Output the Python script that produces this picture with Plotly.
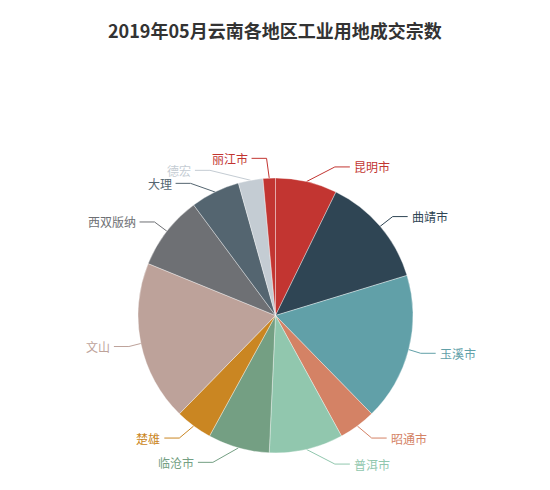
import math
import plotly.graph_objects as go

title = "2019年05月云南各地区工业用地成交宗数"
regions = ["昆明市", "曲靖市", "玉溪市", "昭通市", "普洱市", "临沧市",
           "楚雄", "文山", "西双版纳", "大理", "德宏", "丽江市"]
counts = [5, 9, 12, 3, 6, 5, 3, 13, 6, 4, 2, 1]
palette = ["#c23531", "#2f4554", "#61a0a8", "#d48265", "#91c7ae", "#749f83",
           "#ca8622", "#bda29a", "#6e7074", "#546570", "#c4ccd3"]

W, H = 550, 490
cx, cy, r = 275.5, 315.5, 137.5
len1, len2 = 15, 15   # echarts labelLine length / length2
label_h = 12
FONT = "Noto Sans CJK SC"

colors = [palette[i % len(palette)] for i in range(len(regions))]


def layout_labels():
    # mimic the echarts 4 outside label placement (pie labelLayout)
    total = sum(counts)
    items = []
    start = 0.0
    for i, v in enumerate(counts):
        ang = (v / total) * 2 * math.pi
        mid = start + ang / 2
        start += ang
        dx, dy = math.sin(mid), -math.cos(mid)
        x1, y1 = cx + r * dx, cy + r * dy
        x2, y2 = x1 + dx * len1, y1 + dy * len1
        side = -1 if dx < 0 else 1
        x3 = x2 + side * len2
        items.append(dict(i=i, x=x3 + side * 5, y=y2, side=side,
                          p1=(x1, y1), dist=x2 - x3))

    for side in (1, -1):
        lst = sorted([it for it in items if it["side"] == side], key=lambda a: a["y"])
        n = len(lst)

        def shift_up(end, delta):
            for j in range(end, -1, -1):
                lst[j]["y"] -= delta
                if j > 0 and lst[j]["y"] > lst[j - 1]["y"] + label_h:
                    break

        def shift_down(s, e, delta):
            for j in range(s, e):
                lst[j]["y"] += delta
                if j > s and j + 1 < e and lst[j + 1]["y"] > lst[j]["y"] + label_h:
                    shift_up(j, delta / 2)
                    return
            shift_up(e - 1, delta / 2)

        last_y = 0
        for k in range(n):
            d = lst[k]["y"] - last_y
            if d < 0:
                shift_down(k, n, -d)
            last_y = lst[k]["y"] + label_h

        def change_x(sub, is_down):
            last_dx = float("inf") if is_down else 0
            for it in sub:
                dy_ = abs(it["y"] - cy)
                if dy_ < r + len1:
                    ddx = math.sqrt((r + len1 + len2) ** 2 - dy_ ** 2)
                else:
                    ddx = abs(it["x"] - cx)
                if is_down and ddx >= last_dx:
                    ddx = last_dx - 10
                if not is_down and ddx <= last_dx:
                    ddx = last_dx + 10
                it["x"] = cx + ddx * side
                last_dx = ddx

        change_x([it for it in lst if it["y"] < cy], False)
        change_x([it for it in lst if it["y"] >= cy], True)

    for it in items:
        xe = it["x"] + 3 if it["side"] < 0 else it["x"] - 3
        it["line"] = [it["p1"], (xe + it["dist"], it["y"]), (xe, it["y"])]
    return items


fig = go.Figure()

fig.add_trace(go.Pie(
    labels=regions, values=counts, sort=False, direction="clockwise", rotation=0,
    marker=dict(colors=colors, line=dict(color="rgba(255,255,255,0.6)", width=0.6)),
    textinfo="none", textposition="none", hoverinfo="label+value+percent",
    showlegend=False,
    domain=dict(x=[(cx - r) / W, (cx + r) / W],
                y=[1 - (cy + r) / H, 1 - (cy - r) / H]),
))

annotations = []
for it in layout_labels():
    c = colors[it["i"]]
    xs = [p[0] for p in it["line"]]
    ys = [p[1] for p in it["line"]]
    fig.add_trace(go.Scatter(x=xs, y=ys, mode="lines", line=dict(color=c, width=1),
                             hoverinfo="skip", showlegend=False))
    annotations.append(dict(
        x=it["x"], y=it["y"], xref="x", yref="y", text=regions[it["i"]],
        showarrow=False, xanchor="right" if it["side"] < 0 else "left",
        yanchor="middle", borderpad=0, font=dict(family=FONT, size=12, color=c)))

annotations.append(dict(
    x=0.5, y=30, xref="paper", yref="y", text=title, showarrow=False,
    xanchor="center", yanchor="middle",
    font=dict(family=FONT, size=18, color="#333333", weight="bold")))

fig.update_layout(
    width=W, height=H,
    margin=dict(l=0, r=0, t=0, b=0),
    paper_bgcolor="white", plot_bgcolor="white",
    xaxis=dict(range=[0, W], visible=False, fixedrange=True, domain=[0, 1]),
    yaxis=dict(range=[H, 0], visible=False, fixedrange=True, domain=[0, 1]),
    annotations=annotations,
    font=dict(family=FONT),
)

# drop the default page margin so the figure sits at the window origin
fig.write_html("out.html", config={"displayModeBar": False},
               post_script="document.body.style.margin='0';")
